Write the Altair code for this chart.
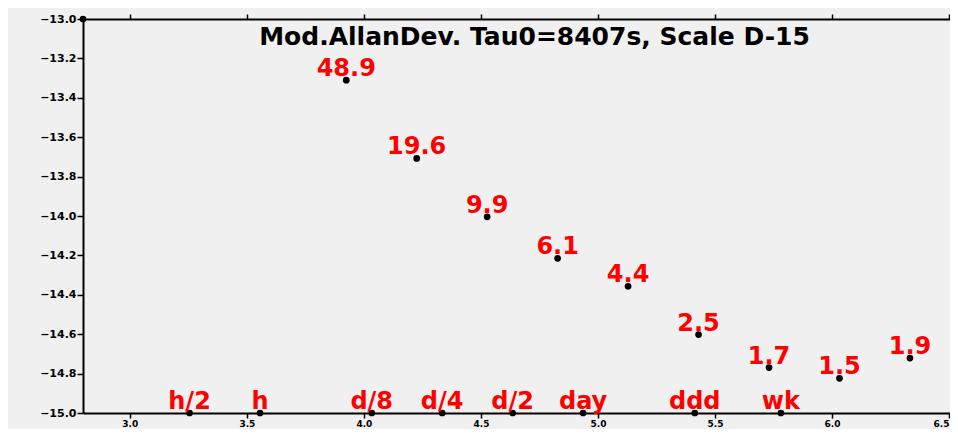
import altair as alt
import numpy as np
import pandas as pd

# Allan deviation points (tau in seconds, value in units of 1e-15)
tau_s = [8407, 16814, 33628, 67256, 134512, 269024, 538048, 1076096, 2152192]
adev = [48.9, 19.6, 9.9, 6.1, 4.4, 2.5, 1.7, 1.5, 1.9]
adev_labels = ["48.9", "19.6", "9.9", "6.1", "4.4", "2.5", "1.7", "1.5", "1.9"]

# time markers along the bottom axis
marker_names = ["h/2", "h", "d/8", "d/4", "d/2", "day", "ddd", "wk"]
marker_s = [1800, 3600, 10800, 21600, 43200, 86400, 259200, 604800]

x_ticks = [3.0, 3.5, 4.0, 4.5, 5.0, 5.5, 6.0, 6.5]
y_ticks = [-13.0, -13.2, -13.4, -13.6, -13.8, -14.0, -14.2, -14.4, -14.6, -14.8, -15.0]

pts = pd.DataFrame({
    "x": np.log10(tau_s),
    "y": np.log10(adev) - 15,
    "lab": adev_labels,
})
mk = pd.DataFrame({
    "x": np.log10(marker_s),
    "y": [-15.0] * len(marker_s),
    "lab": marker_names,
})
corner = pd.DataFrame({"x": [2.8], "y": [-13.0]})

xs = alt.Scale(domain=[2.8, 6.504], nice=False, zero=False)
ys = alt.Scale(domain=[-15.0, -13.0], nice=False, zero=False)

ax_common = dict(domainColor="black", domainWidth=2, tickColor="black", tickWidth=1.5,
                 labelColor="black", labelFont="DejaVu Sans", labelFontWeight="bold",
                 grid=False, title=None)

x_bottom = alt.X("x:Q", scale=xs, axis=alt.Axis(values=x_ticks, format=".1f", tickSize=5,
                                                 labelPadding=1, labelFontSize=9, **ax_common))
x_none = alt.X("x:Q", scale=xs, axis=None)
y_left = alt.Y("y:Q", scale=ys, axis=alt.Axis(values=y_ticks, format=".1f", tickSize=6,
                                               labelPadding=1, labelFontSize=11, **ax_common))

text_style = dict(color="#ff0000", font="DejaVu Sans", fontWeight="bold", fontSize=24,
                  align="center", baseline="alphabetic", dy=-4)

point_layer = alt.Chart(pts).mark_circle(color="black", size=45, opacity=1).encode(x=x_bottom, y=y_left)
val_text = alt.Chart(pts).mark_text(**text_style).encode(x=x_none, y=y_left, text="lab:N")
mk_points = alt.Chart(mk).mark_circle(color="black", size=45, opacity=1).encode(x=x_none, y=y_left)
mk_text = alt.Chart(mk).mark_text(**text_style).encode(x=x_none, y=y_left, text="lab:N")
corner_pt = alt.Chart(corner).mark_circle(color="black", size=45, opacity=1).encode(x=x_none, y=y_left)

top_axis = alt.Chart(corner).mark_circle(opacity=0).encode(
    x=alt.X("x:Q", scale=xs, axis=alt.Axis(orient="top", values=x_ticks, labels=False, tickSize=5,
                                          domainColor="black", domainWidth=2, tickColor="black",
                                          tickWidth=1.5, grid=False, title=None)),
    y=y_left,
)

chart = alt.layer(point_layer, val_text, mk_points, mk_text, corner_pt, top_axis).resolve_axis(
    x="independent"
).properties(
    width=867,
    height=394,
    autosize="none",
    padding={"left": 75, "top": 11, "right": 0, "bottom": 16},
    background="#f0f0f0",
    title=alt.TitleParams(
        "Mod.AllanDev. Tau0=8407s, Scale D-15",
        font="DejaVu Sans", fontSize=25, fontWeight="bold", color="black",
        anchor="middle", frame="group", offset=-37, dx=18,
    ),
).configure_view(stroke=None)

chart.save("out.html", embed_options={"renderer": "svg", "actions": False})
